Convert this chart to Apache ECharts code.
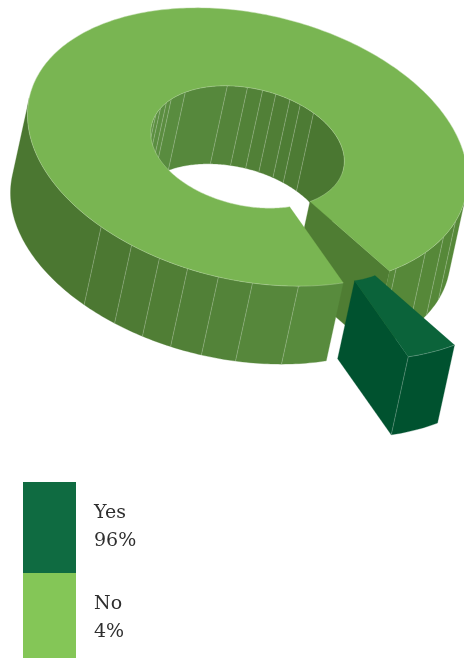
<!DOCTYPE html>
<html>
<head>
<meta charset="utf-8">
<style>html,body{margin:0;padding:0;background:#fff;overflow:hidden}#chart{width:464px;height:658px}</style>
<script src="https://cdn.jsdelivr.net/npm/echarts@6/dist/echarts.min.js"></script>
</head>
<body>
<div id="chart"></div>
<script>
// Survey result, drawn as an extruded ring with its smaller share pulled out.
const categories = ['Yes', 'No'];
const shares = [96, 4];
const shareLabels = ['96%', '4%'];

// Oblique projection of the unit ring onto the page.
const view = { cx: 247.5, cy: 147, ax: 220, bx: 0, ay: 32, by: 135.4, hole: 0.44, dx: -17, dy: 78 };
const startAngle = 64.2;          // ring position of the first share, degrees
const pullOut = [65, 74];         // offset of the pulled-out share
const farSideStart = 187.4;       // where the extrusion direction grazes the rim

// Facet seams along the walls, in ring degrees.
const outerSeams = [19, 27, 36, 47.5, 76.6, 88.7, 97.6, 105.8, 113.6, 121.8, 131.7];
const innerSeams = [199, 206, 213, 218, 230, 258, 270, 279, 287, 296, 303, 313];
const seamColor = 'rgba(255,255,255,0.36)';

const looks = [
  { top: '#79b552', wallFrom: '#5a8d3f', wallTo: '#4b7731', cut: '#4f7d33', inFrom: '#5c8f41', inTo: '#4a7731', right: '#568839' },
  { top: '#0b633a', wallFrom: '#00522f', wallTo: '#00522f', cut: '#00522f', inFrom: '#00522f', inTo: '#00522f', right: '#00522f' }
];
const swatches = ['#0f6b41', '#84c657'];

const rad = d => d * Math.PI / 180;
function mix(a, b, k) {
  const p = s => [1, 3, 5].map(i => parseInt(s.substr(i, 2), 16));
  const A = p(a), B = p(b);
  return 'rgb(' + A.map((v, i) => Math.round(v + (B[i] - v) * k)).join(',') + ')';
}
function point(t, r, shift, low) {
  const c = Math.cos(rad(t)), s = Math.sin(rad(t));
  return [
    view.cx + r * (view.ax * c + view.bx * s) + shift[0] + (low ? view.dx : 0),
    view.cy + r * (view.ay * c + view.by * s) + shift[1] + (low ? view.dy : 0)
  ];
}
function arc(from, to, r, shift, low) {
  const n = Math.max(1, Math.ceil(Math.abs(to - from)));
  const out = [];
  for (let i = 0; i <= n; i++) out.push(point(from + (to - from) * i / n, r, shift, low));
  return out;
}
const poly = (pts, fill) => ({ type: 'polygon', shape: { points: pts }, style: { fill: fill, stroke: fill, lineWidth: 0.3 } });
const line = pts => ({ type: 'polyline', shape: { points: pts }, style: { fill: 'none', stroke: seamColor, lineWidth: 0.6 } });

// Facets of one wall between two ring angles, split at its seams;
// the seam lines go on top of all the facets.
function wall(from, to, r, shift, seams, shade) {
  const cuts = [from].concat(seams.filter(s => s > from && s < to), [to]);
  const faces = [];
  const lines = [];
  for (let i = 0; i < cuts.length - 1; i++) {
    const a = arc(cuts[i], cuts[i + 1], r, shift, false);
    const b = arc(cuts[i], cuts[i + 1], r, shift, true).reverse();
    faces.push(poly(a.concat(b), shade((cuts[i] + cuts[i + 1]) / 2)));
    if (i > 0) lines.push(line([point(cuts[i], r, shift, false), point(cuts[i], r, shift, true)]));
  }
  return faces.concat(lines);
}

const total = shares.reduce((a, b) => a + b, 0);
function span(index) {
  let from = startAngle;
  for (let i = 0; i < index; i++) from += shares[i] / total * 360;
  return [from, from + shares[index] / total * 360];
}

function drawShare(index) {
  const [from, to] = span(index);
  const look = looks[index];
  const shift = index === 1 ? pullOut : [0, 0];
  const kids = [];
  const r = view.hole;
  // Back of the hole, visible only on the far side.
  if (index === 0) {
    const innerShade = t => mix(look.inFrom, look.inTo, Math.min(1, Math.max(0, (t - 206) / (330 - 206))));
    kids.push(...wall(farSideStart, farSideStart + 180, r, shift, innerSeams, innerShade));
  }
  // Cut face at the end of the share that looks toward the viewer.
  kids.push(poly([point(to, r, shift, false), point(to, 1, shift, false), point(to, 1, shift, true), point(to, r, shift, true)], look.cut));
  // Outer wall: the part of the rim that faces the viewer.
  const outerShade = t => {
    if (t > 360) return look.right;
    return mix(look.wallFrom, look.wallTo, Math.min(1, Math.max(0, (t - 63) / (131 - 63))));
  };
  if (index === 0) {
    kids.push(...wall(farSideStart + 180, to, 1, shift, outerSeams.map(s => s + 360), outerShade));
    kids.push(...wall(from, farSideStart, 1, shift, outerSeams, outerShade));
  } else {
    kids.push(...wall(from, to, 1, shift, [], outerShade));
    kids.push(line([point(to, 1, shift, false), point(to, 1, shift, true)]));
  }
  // Top face as one closed outline.
  const topPts = arc(from, to, 1, shift, false).concat(arc(to, from, r, shift, false));
  kids.push(poly(topPts, look.top));
  kids.push(line(arc(from, to, 1, shift, false)));
  if (index === 0) kids.push(line(arc(from, to, r, shift, false)));
  return kids;
}

const chart = echarts.init(document.getElementById('chart'), null, { renderer: 'canvas' });
const series = categories.map((name, i) => ({
  name: name,
  type: 'custom',
  coordinateSystem: 'none',
  silent: true,
  z: 2 + i,
  data: [shares[i]],
  renderItem: () => ({ type: 'group', children: drawShare(i) })
}));
chart.setOption({
  animation: false,
  legend: {
    orient: 'vertical',
    left: 23,
    top: 482,
    height: 200,
    padding: 0,
    itemGap: 0,
    itemWidth: 53,
    itemHeight: 91,
    icon: 'rect',
    selectedMode: false,
    data: categories.map((name, i) => ({ name: name, itemStyle: { color: swatches[i] } })),
    formatter: name => name + '\n' + shareLabels[categories.indexOf(name)],
    textStyle: { fontFamily: 'DejaVu Serif', fontSize: 19, lineHeight: 28, color: '#2e2e2e', padding: [0, 0, 4, 13] }
  },
  series: series
});
</script>
</body>
</html>
